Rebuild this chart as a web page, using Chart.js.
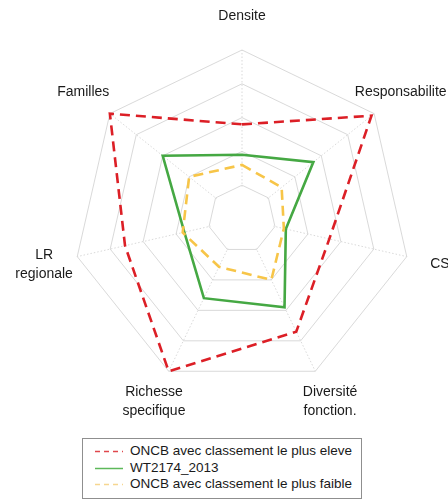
<!DOCTYPE html>
<html>
<head>
<meta charset="utf-8">
<script src="https://cdn.jsdelivr.net/npm/chart.js@4"></script>
<style>
    html, body { margin: 0; padding: 0; background: #fff; }
    .wrap { position: relative; width: 448px; height: 501px; overflow: hidden; }
    canvas { position: absolute; left: 0; top: 0; }
    .legend-box {
        position: absolute; left: 82px; top: 438px; width: 278px; height: 59px;
        border: 1px solid #8f8f8f; background: #fff;
        font-family: "Liberation Sans", Arial, sans-serif; font-size: 13.5px; color: #1a1a1a;
    }
    .legend-row { position: absolute; left: 0; height: 16px; line-height: 16px; white-space: nowrap; }
    .legend-row svg { position: absolute; left: 12px; top: 7px; }
    .legend-row span { position: absolute; left: 47px; top: 0; }
</style>
</head>
<body>
<div class="wrap">
    <canvas id="radar" width="448" height="501"></canvas>
    <div class="legend-box" id="legend"></div>
</div>
<script>
const axisLabels = ["Densite", "Responsabilite", "CS", ["Diversité", "fonction."], ["Richesse", "specifique"], ["LR", "regionale"], "Familles"];
const seriesNames = ["ONCB avec classement le plus eleve", "WT2174_2013", "ONCB avec classement le plus faible"];
const highValues = [2.8, 4.9, 2.65, 3.7, 5.0, 3.55, 5.0];
const wtValues = [1.9, 2.7, 1.33, 2.9, 2.6, 1.75, 3.0];
const lowValues = [1.6, 1.5, 1.27, 2.0, 1.57, 1.8, 2.0];
const scaleMin = 0;
const scaleMax = 5;
const scaleStep = 1;

(function (window, document) {
    "use strict";

    const colors = ["#dc1f26", "#45a843", "#f7c548"];
    const legendColors = ["#e0474c", "#5db85a", "#f6d690"];
    const dashes = [[10, 6], [], [10, 6]];
    const font = '"Liberation Sans", Arial, sans-serif';

    // the center ring of the original has no spokes, so blank it before the lines go on
    const hideCenter = {
        id: "hideCenter",
        beforeDatasetsDraw(chart) {
            const scale = chart.scales.r;
            const ctx = chart.ctx;
            ctx.save();
            ctx.beginPath();
            axisLabels.forEach((_, i) => {
                const p = scale.getPointPositionForValue(i, scaleStep * 0.96);
                if (i === 0) ctx.moveTo(p.x, p.y); else ctx.lineTo(p.x, p.y);
            });
            ctx.closePath();
            ctx.fillStyle = "#fff";
            ctx.fill();
            ctx.restore();
        }
    };

    const axisText = {
        id: "axisText",
        afterDraw(chart) {
            const scale = chart.scales.r;
            const ctx = chart.ctx;
            ctx.save();
            ctx.font = "14px " + font;
            ctx.fillStyle = "#1a1a1a";
            ctx.textAlign = "center";
            ctx.textBaseline = "middle";
            axisLabels.forEach((label, i) => {
                const p = scale.getPointPosition(i, scale.drawingArea + 34);
                const lines = Array.isArray(label) ? label : [label];
                lines.forEach((line, j) => {
                    ctx.fillText(line, p.x, p.y + (j - (lines.length - 1) / 2) * 19);
                });
            });
            ctx.restore();
        }
    };

    function renderLegend() {
        const box = document.getElementById("legend");
        box.innerHTML = seriesNames.map((name, i) => `
            <div class="legend-row" style="top:${4 + i * 16.5}px">
                <svg width="28" height="3"><line x1="0" y1="1.5" x2="28" y2="1.5" stroke="${legendColors[i]}" stroke-width="1.5" ${dashes[i].length ? 'stroke-dasharray="5,4"' : ""}/></svg>
                <span>${name}</span>
            </div>
        `).join("");
    }

    function renderChart() {
        const canvas = document.getElementById("radar");
        const values = [highValues, wtValues, lowValues];
        new Chart(canvas.getContext("2d"), {
            type: "radar",
            data: {
                labels: axisLabels,
                datasets: values.map((data, i) => ({
                    label: seriesNames[i],
                    data,
                    borderColor: colors[i],
                    borderWidth: 2.6,
                    borderDash: dashes[i],
                    borderJoinStyle: "miter",
                    fill: false,
                    pointRadius: 0,
                    tension: 0
                })).reverse()
            },
            options: {
                responsive: false,
                animation: false,
                layout: { padding: { left: 73, right: 37, top: 50, bottom: 113 } },
                plugins: { legend: { display: false }, tooltip: { enabled: false } },
                scales: {
                    r: {
                        min: scaleMin,
                        max: scaleMax,
                        ticks: { display: false, stepSize: scaleStep },
                        pointLabels: { display: false },
                        grid: { circular: false, color: "#cfcfcf", lineWidth: 0.8, borderDash: [1.5, 2] },
                        angleLines: { color: "#cfcfcf", lineWidth: 0.8, borderDash: [1.5, 2] }
                    }
                }
            },
            plugins: [hideCenter, axisText]
        });
    }

    renderLegend();
    renderChart();
})(window, document);
</script>
</body>
</html>
